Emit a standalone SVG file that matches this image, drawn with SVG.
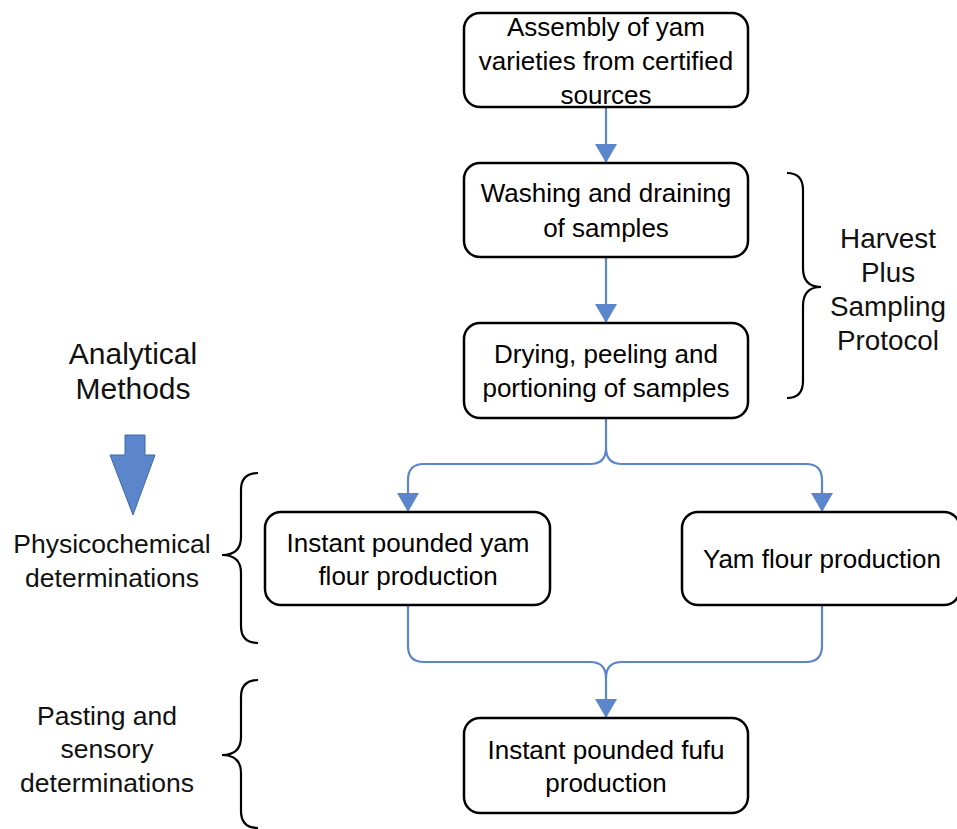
<svg xmlns="http://www.w3.org/2000/svg" width="957" height="829" viewBox="0 0 957 829">
<defs>
<style>
.box{fill:#fff;stroke:#000;stroke-width:2.5}
.bt{font-family:"Liberation Sans",Arial,sans-serif;font-size:26px;fill:#000;text-anchor:middle}
.lb{font-family:"Liberation Sans",Arial,sans-serif;font-size:26.5px;fill:#111;text-anchor:middle}
.cn{fill:none;stroke:#5B86CC;stroke-width:2.2}
.br{fill:none;stroke:#000;stroke-width:2.2}
</style>
<marker id="ah" viewBox="0 0 19 22" refX="19" refY="11" markerWidth="19" markerHeight="22" markerUnits="userSpaceOnUse" orient="auto">
<path d="M0,0 L19,11 L0,22 z" fill="#5B86CC"/>
</marker>
</defs>
<rect width="957" height="829" fill="#fff"/>
<g id="connectors">
<path class="cn" d="M606,107 V163" marker-end="url(#ah)"/>
<path class="cn" d="M606,257 V323" marker-end="url(#ah)"/>
<path class="cn" d="M606,418 V448 Q606,464 590,464 H424 Q408,464 408,480 V512" marker-end="url(#ah)"/>
<path class="cn" d="M606,448 Q606,464 622,464 H806 Q822,464 822,480 V512" marker-end="url(#ah)"/>
<path class="cn" d="M408,605 V646 Q408,662 424,662 H590 Q606,662 606,678 V718" marker-end="url(#ah)"/>
<path class="cn" d="M822,605 V646 Q822,662 806,662 H622 Q606,662 606,678"/>
</g>
<g id="n1"><rect class="box" x="464" y="13" width="284" height="94" rx="16"/>
<text class="bt" x="606" y="36">Assembly of yam</text>
<text class="bt" x="606" y="70">varieties from certified</text>
<text class="bt" x="606" y="104">sources</text></g>
<g id="n2"><rect class="box" x="464" y="163" width="284" height="94" rx="16"/>
<text class="bt" x="606" y="202">Washing and draining</text>
<text class="bt" x="606" y="237">of samples</text></g>
<g id="n3"><rect class="box" x="464" y="323" width="284" height="95" rx="16"/>
<text class="bt" x="606" y="363">Drying, peeling and</text>
<text class="bt" x="606" y="397">portioning of samples</text></g>
<g id="n4"><rect class="box" x="265" y="512" width="285" height="93" rx="16"/>
<text class="bt" x="408" y="552">Instant pounded yam</text>
<text class="bt" x="408" y="585">flour production</text></g>
<g id="n5"><rect class="box" x="682" y="512" width="278" height="93" rx="16"/>
<text class="bt" x="822" y="568">Yam flour production</text></g>
<g id="n6"><rect class="box" x="464" y="718" width="284" height="95" rx="16"/>
<text class="bt" x="606" y="759">Instant pounded fufu</text>
<text class="bt" x="606" y="792">production</text></g>
<g id="harvest">
<path class="br" d="M787,173 Q803,173 803,190 V268 Q803,287 821,287 Q803,287 803,306 V381 Q803,398 787,398"/>
<text class="lb" x="888" y="248" style="font-size:27.8px">Harvest</text>
<text class="lb" x="888" y="282" style="font-size:27.8px">Plus</text>
<text class="lb" x="888" y="316" style="font-size:27.8px">Sampling</text>
<text class="lb" x="888" y="350" style="font-size:27.8px">Protocol</text>
</g>
<g id="analytical">
<text class="lb" x="133" y="364" style="font-size:30px">Analytical</text>
<text class="lb" x="133" y="399" style="font-size:30px">Methods</text>
<polygon points="125,435 145,435 145,455 155,455 133,515 110,455 125,455" fill="#5B86CC" stroke="#3F68A8" stroke-width="1"/>
</g>
<g id="physico">
<path class="br" d="M258,473 Q241,473 241,490 V537 Q241,555 222,555 Q241,555 241,573 V626 Q241,643 258,643"/>
<text class="lb" x="112" y="553">Physicochemical</text>
<text class="lb" x="112" y="587">determinations</text>
</g>
<g id="pasting">
<path class="br" d="M258,680 Q241,680 241,697 V737 Q241,755 222,755 Q241,755 241,773 V811 Q241,828 258,828"/>
<text class="lb" x="107" y="725">Pasting and</text>
<text class="lb" x="107" y="758">sensory</text>
<text class="lb" x="107" y="792">determinations</text>
</g>
</svg>
